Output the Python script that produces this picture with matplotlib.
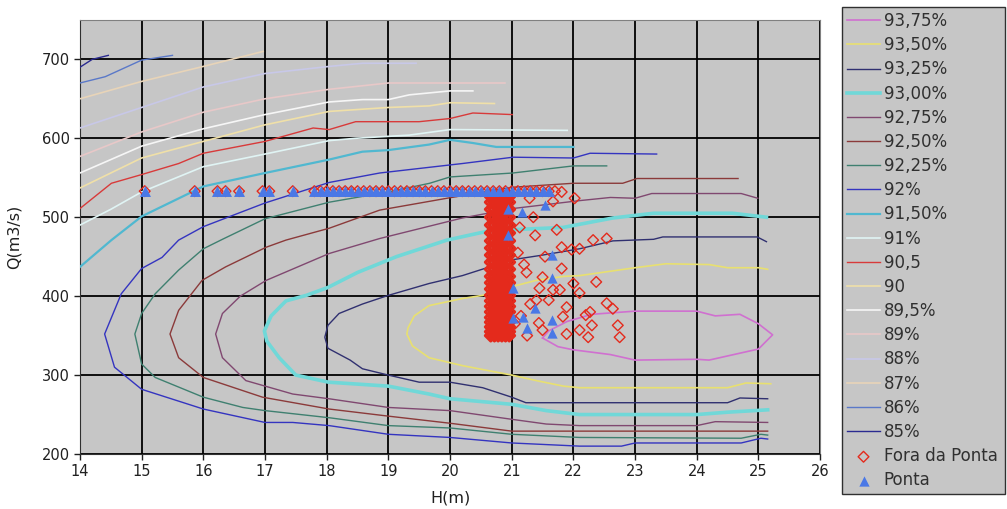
import matplotlib
matplotlib.use("Agg")
import matplotlib.pyplot as plt

plt.rcParams['font.family'] = ['DejaVu Sans']

# contour lines, (H, Q) points
c9375_h = [21.5, 21.6, 21.9, 22.3, 23.0, 24.0, 24.3, 24.7, 25.0, 25.23, 25.0, 24.2, 24.0, 23.0, 22.6, 22.0, 21.75, 21.5]
c9375_q = [347, 356, 368, 377, 381, 381, 375, 377, 365, 351, 333, 319, 320, 319, 326, 332, 336, 347]

c9350_h = [25.15, 25.0, 24.5, 24.2, 23.5, 23.0, 22.1, 21.84, 21.4, 20.9, 20.53, 20.2, 19.66, 19.42, 19.32, 19.3,
           19.39, 19.66, 20.2, 21.0, 21.4, 21.84, 22.1, 23.0, 24.5, 24.8, 25.2]
c9350_q = [434, 436, 436, 440, 441, 436, 426, 425, 420, 410, 401, 397, 388, 375, 360, 352,
           337, 322, 312, 300, 293, 286, 284, 284, 284, 290, 289]

c9325_h = [25.13, 24.98, 23.45, 23.3, 22.64, 22.1, 21.5, 21.0, 20.2, 19.66, 19.0, 18.58, 18.2, 18.02, 17.97, 18.02,
           18.38, 18.58, 19.0, 19.5, 20.0, 20.53, 21.0, 21.23, 22.1, 24.5, 24.7, 25.15]
c9325_q = [469, 475, 475, 472, 470, 460, 452, 446, 426, 416, 401, 390, 378, 363, 348, 334,
           319, 308, 300, 291, 291, 284, 272, 265, 265, 265, 271, 270]

c9300_h = [25.13, 24.58, 23.3, 22.64, 21.83, 20.65, 19.95, 19.13, 18.5, 18.02, 17.67, 17.34, 17.1, 16.99, 17.03,
           17.23, 17.5, 18.03, 19.0, 19.66, 20.0, 21.0, 21.56, 22.1, 24.0, 24.5, 25.15]
c9300_q = [500, 505, 505, 499, 487, 483, 471, 450, 430, 411, 401, 394, 375, 356, 343,
           322, 300, 291, 286, 276, 270, 263, 255, 250, 250, 253, 256]

c9275_h = [24.99, 24.72, 23.27, 23.0, 22.6, 22.1, 21.02, 20.2, 18.86, 18.04, 17.02, 16.6, 16.31, 16.2, 16.31,
           16.69, 17.45, 18.04, 19.0, 20.0, 21.0, 21.56, 22.1, 24.0, 24.3, 25.15]
c9275_q = [524, 530, 530, 524, 525, 521, 511, 499, 473, 454, 420, 400, 378, 352, 322,
           293, 276, 270, 259, 255, 244, 238, 236, 236, 241, 240]

c9250_h = [24.67, 23.03, 22.8, 22.0, 21.02, 19.95, 18.86, 18.04, 17.34, 17.02, 16.36, 15.98, 15.6, 15.46, 15.6,
           16.0, 16.96, 18.04, 19.0, 20.0, 21.0, 22.1, 25.15]
c9250_q = [549, 549, 543, 543, 538, 524, 509, 486, 471, 462, 437, 420, 382, 352, 322,
           297, 272, 257, 248, 239, 229, 229, 229]

c9225_h = [22.54, 22.0, 21.02, 20.0, 19.67, 19.0, 18.04, 17.0, 16.31, 16.0, 15.6, 15.22, 15.0, 14.89, 15.0,
           15.22, 16.0, 16.64, 17.0, 18.04, 19.0, 20.0, 21.0, 22.1, 24.72, 25.04, 25.15]
c9225_q = [565, 565, 556, 551, 543, 532, 519, 498, 472, 460, 433, 403, 378, 352, 314,
           297, 272, 259, 255, 246, 236, 233, 225, 221, 220, 225, 224]

c9200_h = [23.35, 22.27, 22.0, 21.02, 20.2, 18.86, 18.04, 17.0, 16.0, 15.6, 15.33, 15.0, 14.67, 14.4, 14.56,
           15.0, 16.0, 17.0, 17.45, 18.04, 19.0, 20.0, 21.0, 22.1, 22.78, 23.0, 24.72, 25.04, 25.15]
c9200_q = [580, 581, 575, 576, 568, 556, 544, 518, 488, 471, 449, 435, 403, 352, 310,
           282, 257, 240, 240, 236, 225, 221, 214, 210, 210, 214, 214, 220, 219]

c9150_h = [22.0, 20.75, 20.37, 20.0, 19.66, 19.0, 18.58, 18.04, 17.0, 16.0, 15.0, 14.51, 14.0]
c9150_q = [589, 589, 594, 598, 592, 585, 583, 573, 556, 539, 501, 471, 437]

c9100_h = [21.9, 20.0, 19.34, 18.47, 18.04, 17.0, 16.0, 15.0, 14.5, 14.0]
c9100_q = [610, 611, 604, 600, 597, 580, 564, 532, 510, 490]

c9050_h = [21.01, 20.37, 20.0, 19.5, 18.47, 18.04, 17.78, 17.0, 16.0, 15.6, 15.0, 14.51, 14.0]
c9050_q = [630, 632, 625, 621, 621, 611, 613, 596, 581, 568, 554, 543, 511]

c9000_h = [20.72, 20.0, 19.66, 19.0, 18.04, 17.0, 16.0, 15.0, 14.0]
c9000_q = [644, 645, 641, 639, 634, 617, 596, 575, 537]

c8950_h = [20.37, 20.0, 19.34, 19.0, 18.58, 18.04, 17.0, 16.0, 15.0, 14.0]
c8950_q = [660, 660, 655, 649, 649, 646, 630, 612, 590, 556]

c8900_h = [20.89, 20.0, 19.0, 18.04, 17.0, 16.0, 15.0, 14.0]
c8900_q = [670, 670, 670, 662, 650, 633, 608, 577]

c8800_h = [19.45, 18.58, 18.04, 17.0, 16.0, 15.0, 14.0]
c8800_q = [695, 695, 691, 682, 665, 639, 613]

c8700_h = [16.97, 16.0, 15.0, 14.0]
c8700_q = [710, 691, 672, 650]

c8600_h = [15.5, 15.0, 14.41, 14.0]
c8600_q = [705, 699, 678, 670]

c8500_h = [14.46, 14.2, 14.0]
c8500_q = [705, 700, 690]

labels = ["93,75%", "93,50%", "93,25%", "93,00%", "92,75%", "92,50%", "92,25%", "92%", "91,50%", "91%",
          "90,5", "90", "89,5%", "89%", "88%", "87%", "86%", "85%"]

# operating points
row_q = 533
row_h = [15.05, 15.86, 16.23, 16.36, 16.58, 16.96, 17.07, 17.45, 17.8, 17.9, 18.0, 18.1, 18.2, 18.3, 18.4,
         18.5, 18.6, 18.7, 18.8, 18.9, 19.0, 19.1, 19.2, 19.3, 19.4, 19.5, 19.6, 19.7, 19.8, 19.9, 20.0,
         20.1, 20.2, 20.3, 20.4, 20.5, 20.6, 20.7, 20.8, 20.9, 21.0, 21.1, 21.2, 21.3, 21.4, 21.5, 21.6]

block_h = [20.66, 20.72, 20.78, 20.84, 20.9, 20.96]
block_q = [350, 355, 361, 367, 373, 380, 387, 394, 401, 409, 417, 425, 434, 443, 452, 461, 470, 480, 490,
           500, 510, 519, 526]

fora_h = [21.81, 22.02, 21.29, 21.67, 21.35, 21.73, 21.13, 21.38, 22.32, 22.1, 21.97, 21.81, 21.54, 22.54,
          21.81, 22.37, 22.0, 21.5, 21.67, 22.1, 21.89, 22.54, 22.64, 22.72, 22.75, 22.24, 22.1, 21.83, 21.5,
          21.44, 22.27, 22.3, 21.89, 22.2, 21.78, 21.4, 21.24, 21.45, 21.1, 21.2, 21.3, 21.15, 21.6, 21.05,
          21.25, 21.7]
fora_q = [532, 524, 524, 520, 500, 484, 487, 477, 471, 460, 459, 462, 450, 473,
          435, 418, 416, 424, 408, 404, 386, 391, 384, 363, 348, 348, 357, 374, 357,
          366, 380, 363, 352, 376, 408, 395, 430, 410, 455, 440, 390, 375, 395, 365,
          350, 533]

ponta_h = [20.94, 21.16, 21.54, 20.94, 21.65, 21.65, 21.02, 21.38, 21.02, 21.18, 21.24, 21.65, 21.65]
ponta_q = [510, 506, 515, 477, 452, 423, 410, 385, 372, 374, 360, 370, 353]

lines = [(c9375_h, c9375_q), (c9350_h, c9350_q), (c9325_h, c9325_q), (c9300_h, c9300_q),
         (c9275_h, c9275_q), (c9250_h, c9250_q), (c9225_h, c9225_q), (c9200_h, c9200_q),
         (c9150_h, c9150_q), (c9100_h, c9100_q), (c9050_h, c9050_q), (c9000_h, c9000_q),
         (c8950_h, c8950_q), (c8900_h, c8900_q), (c8800_h, c8800_q), (c8700_h, c8700_q),
         (c8600_h, c8600_q), (c8500_h, c8500_q)]
colors = ['#d070d0', '#e8e070', '#303070', '#70d8d8', '#804870', '#8b3a3a', '#3f8070', '#3434c0',
          '#50b8d0', '#e0f4f4', '#d83a3a', '#f0e0a8', '#f6f6f6', '#e8c8c8', '#c8c8e8', '#e8d4b8',
          '#5a78c8', '#2a2a90']
widths = [1.2, 1.2, 1.0, 2.6, 1.0, 1.0, 1.0, 1.0, 1.6, 1.2, 1.0, 1.2, 1.2, 1.2, 1.2, 1.2, 1.0, 1.0]

fig = plt.figure(figsize=(10.07, 5.09), dpi=100)
ax = fig.add_axes([0.0794, 0.108, 0.735, 0.853])
ax.set_facecolor('#c6c6c6')

for (h, q), col, lw, lab in zip(lines, colors, widths, labels):
    ax.plot(h, q, color=col, lw=lw, label=lab, zorder=3)

red = '#e42a1c'
fora_kw = dict(marker='D', s=30, facecolors='none', edgecolors=red, linewidths=1.0, zorder=4)
for bh in block_h:
    ax.scatter([bh] * len(block_q), block_q, marker='D', s=30, facecolors='none',
               edgecolors=red, linewidths=2.2, zorder=4)
ax.scatter(row_h, [row_q] * len(row_h), **fora_kw)
ax.scatter(fora_h, fora_q, label='Fora da Ponta', **fora_kw)

blue = '#4a78e6'
ax.scatter(row_h, [row_q] * len(row_h), marker='^', s=62, color=blue, zorder=5, linewidths=0)
ax.scatter(ponta_h, ponta_q, marker='^', s=55, color=blue, zorder=5, linewidths=0, label='Ponta')

ax.set_xlim(14, 26)
ax.set_ylim(200, 750)
ax.set_xticks(range(14, 27))
ax.set_yticks(range(200, 701, 100))
ax.grid(True, color='black', lw=1.3, zorder=1)
ax.set_axisbelow(True)
ax.tick_params(direction='out', length=4, width=1, labelsize=10.5, colors='#202020')
for side in ['top', 'right']:
    ax.spines[side].set_color('#808080')
for side in ['left', 'bottom']:
    ax.spines[side].set_color('#303030')
ax.set_xlabel('H(m)', fontsize=11.5, color='#202020', labelpad=8)
ax.set_ylabel('Q(m3/s)', fontsize=11.5, color='#202020', labelpad=14)

leg = fig.legend(*ax.get_legend_handles_labels(), loc='upper left',
                 bbox_to_anchor=(0.836, 0.0, 0.162, 0.986), mode='expand',
                 fontsize=12, frameon=True, fancybox=False, framealpha=1,
                 facecolor='#c6c6c6', edgecolor='#303030', labelspacing=0.37,
                 handlelength=2.0, handletextpad=0.2, borderpad=0.3, borderaxespad=0.0)
for t in leg.get_texts():
    t.set_color('#303030')

fig.savefig('out.png', dpi=100, facecolor='white')
